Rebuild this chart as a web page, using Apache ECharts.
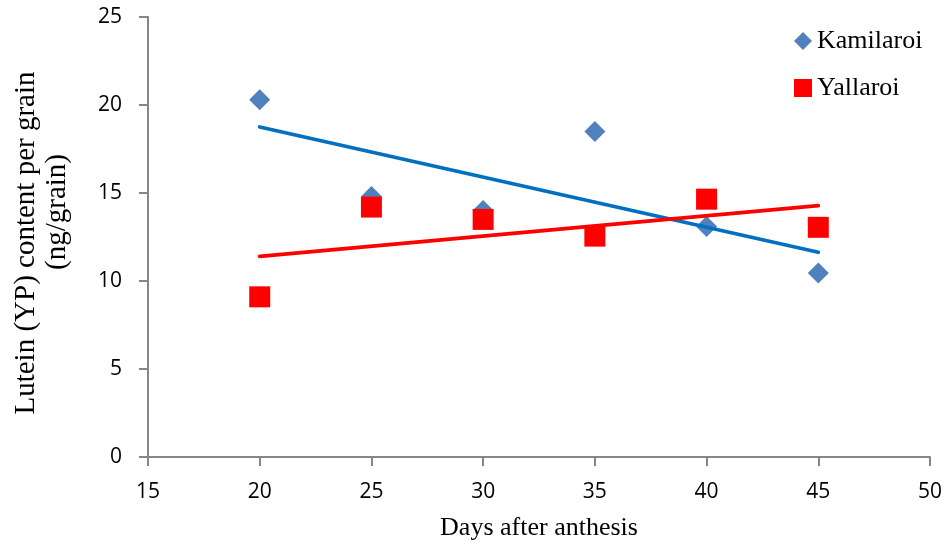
<!DOCTYPE html>
<html>
<head>
<meta charset="utf-8">
<script src="https://cdn.jsdelivr.net/npm/echarts@6/dist/echarts.min.js"></script>
<style>
  html, body { margin: 0; padding: 0; background: #ffffff; }
  #chart { width: 949px; height: 546px; }
</style>
</head>
<body>
<div id="chart"></div>
<script>
// Sampling days after anthesis
const days = [20, 25, 30, 35, 40, 45];
// Lutein (YP) content per grain, ng/grain
const kamilaroi = [20.3, 14.8, 14.0, 18.5, 13.1, 10.45];
const yallaroi = [9.1, 14.2, 13.5, 12.55, 14.65, 13.05];
// Axis ticks
const xTicks = [15, 20, 25, 30, 35, 40, 45, 50];
const yTicks = [0, 5, 10, 15, 20, 25];
// Axis titles
const xTitle = 'Days after anthesis';
const yTitleLines = ['Lutein (YP) content per grain', '(ng/grain)'];

// Least-squares linear trend, evaluated at the first and last sampling day
function trend(xs, ys) {
  const n = xs.length;
  const mx = xs.reduce((a, b) => a + b, 0) / n;
  const my = ys.reduce((a, b) => a + b, 0) / n;
  let sxy = 0, sxx = 0;
  for (let i = 0; i < n; i++) {
    sxy += (xs[i] - mx) * (ys[i] - my);
    sxx += (xs[i] - mx) * (xs[i] - mx);
  }
  const b = sxy / sxx;
  const a = my - b * mx;
  const x0 = xs[0], x1 = xs[n - 1];
  return [[x0, a + b * x0], [x1, a + b * x1]];
}

const pairs = (xs, ys) => xs.map((x, i) => [x, ys[i]]);

const serif = '"Liberation Serif", "Times New Roman", serif';
const sans = '"Open Sans", "Liberation Sans", sans-serif';
const axisGrey = '#868686';

const chart = echarts.init(document.getElementById('chart'), null, { renderer: 'canvas' });
chart.setOption({
  animation: false,
  backgroundColor: '#ffffff',
  grid: { left: 148, right: 19, top: 17, bottom: 89, containLabel: false, outerBoundsMode: 'none' },
  legend: {
    orient: 'vertical',
    left: 789,
    top: 23,
    itemGap: 21,
    itemWidth: 18,
    itemHeight: 18,
    textStyle: { fontFamily: serif, fontSize: 26, color: '#000000' },
    data: [
      { name: 'Kamilaroi', icon: 'diamond' },
      { name: 'Yallaroi', icon: 'rect' }
    ]
  },
  // Rotated two-line title for the value axis
  graphic: [
    {
      type: 'text',
      x: 26, y: 243,
      rotation: Math.PI / 2,
      style: {
        text: yTitleLines[0],
        font: '29px ' + serif,
        fill: '#000000',
        align: 'center',
        verticalAlign: 'middle'
      }
    },
    {
      type: 'text',
      x: 57, y: 212,
      rotation: Math.PI / 2,
      style: {
        text: yTitleLines[1],
        font: '29px ' + serif,
        fill: '#000000',
        align: 'center',
        verticalAlign: 'middle'
      }
    }
  ],
  xAxis: {
    type: 'value',
    min: xTicks[0],
    max: xTicks[xTicks.length - 1],
    interval: 5,
    name: xTitle,
    nameLocation: 'middle',
    nameGap: 58,
    nameTextStyle: { fontFamily: serif, fontSize: 26, color: '#000000' },
    axisLine: { show: true, onZero: false, lineStyle: { color: axisGrey, width: 2 } },
    axisTick: { show: true, length: 9, lineStyle: { color: axisGrey, width: 2 } },
    axisLabel: { margin: 25, fontFamily: sans, fontSize: 21, color: '#000000' },
    splitLine: { show: false }
  },
  yAxis: {
    type: 'value',
    min: yTicks[0],
    max: yTicks[yTicks.length - 1],
    interval: 5,
    axisLine: { show: true, onZero: false, lineStyle: { color: axisGrey, width: 2 } },
    axisTick: { show: true, length: 9, lineStyle: { color: axisGrey, width: 2 } },
    axisLabel: { margin: 26, fontFamily: sans, fontSize: 21, color: '#000000' },
    splitLine: { show: false }
  },
  series: [
    {
      name: 'Kamilaroi',
      type: 'scatter',
      symbol: 'diamond',
      symbolSize: 21,
      itemStyle: { color: '#4F81BD', opacity: 1 },
      data: pairs(days, kamilaroi),
      z: 2
    },
    {
      name: 'Yallaroi',
      type: 'scatter',
      symbol: 'rect',
      symbolSize: 21,
      itemStyle: { color: '#FF0000', opacity: 1 },
      data: pairs(days, yallaroi),
      z: 3
    },
    {
      name: 'Kamilaroi trend',
      type: 'line',
      showSymbol: false,
      symbol: 'none',
      lineStyle: { color: '#0070C0', width: 3.75, cap: 'round' },
      data: trend(days, kamilaroi),
      z: 4
    },
    {
      name: 'Yallaroi trend',
      type: 'line',
      showSymbol: false,
      symbol: 'none',
      lineStyle: { color: '#FF0000', width: 3.75, cap: 'round' },
      data: trend(days, yallaroi),
      z: 5
    }
  ]
});
</script>
</body>
</html>
